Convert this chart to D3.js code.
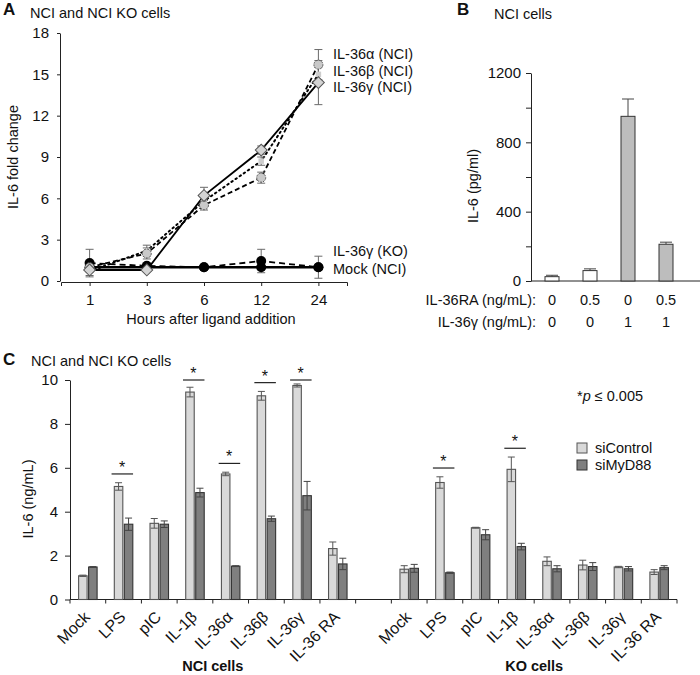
<!DOCTYPE html>
<html>
<head>
<meta charset="utf-8">
<script src="https://cdn.jsdelivr.net/npm/d3@7.9.0/dist/d3.min.js"></script>
<style>
  body { margin: 0; background: #fff; }
  svg { display: block; font-family: 'Liberation Sans', Arial, sans-serif; }
  .axis path, .axis line { stroke: #222; stroke-width: 1; }
  .axis text { font-size: 15px; fill: #111; }
</style>
</head>
<body>
<svg id="fig" width="700" height="675"></svg>
<script>
// ---- panel A: time course (fold change) ----
const hours = [1, 3, 6, 12, 24];
const alphaNCI = [1.0, 2.0, 5.5, 7.5, 15.7];
const alphaNCIErr = [0.2, 0.4, 0.35, 0.4, 1.1];
const betaNCI = [0.7, 2.2, 5.8, 8.7, 15.0];
const betaNCIErr = [0.3, 0.4, 0.3, 0.3, 0.5];
const gammaNCI = [0.8, 0.8, 6.2, 9.5, 14.4];
const gammaNCIErr = [0.15, 0.1, 0.6, 0.3, 1.6];
const gammaKO = [1.3, 1.1, 1.0, 1.45, 1.0];
const gammaKOErr = [1.0, 0.1, 0.1, 0.85, 0.8];
const mockNCI = [1.0, 1.0, 1.0, 1.0, 1.0];
const mockNCIErr = [0.05, 0.05, 0.05, 0.05, 0.05];

// ---- panel B: IL-36RA blocking ----
const raDose = ['0', '0.5', '0', '0.5'];
const gammaDose = ['0', '0', '1', '1'];
const il6pg = [25, 60, 950, 212];
const il6pgErr = [8, 10, 100, 12];

// ---- panel C: siRNA knockdown ----
const stimuli = ['Mock', 'LPS', 'pIC', 'IL-1β', 'IL-36α', 'IL-36β', 'IL-36γ', 'IL-36 RA'];
const nciControl = [1.08, 5.15, 3.47, 9.45, 5.72, 9.28, 9.75, 2.32];
const nciControlErr = [0.03, 0.17, 0.22, 0.22, 0.08, 0.2, 0.07, 0.3];
const nciMyd88 = [1.48, 3.43, 3.43, 4.87, 1.52, 3.68, 4.73, 1.62];
const nciMyd88Err = [0.02, 0.28, 0.15, 0.2, 0.02, 0.12, 0.65, 0.26];
const koControl = [1.38, 5.33, 3.27, 5.93, 1.74, 1.57, 1.48, 1.25];
const koControlErr = [0.16, 0.26, 0.02, 0.56, 0.2, 0.22, 0.03, 0.11];
const koMyd88 = [1.42, 1.22, 2.95, 2.41, 1.4, 1.5, 1.4, 1.45];
const koMyd88Err = [0.18, 0.03, 0.23, 0.15, 0.14, 0.18, 0.1, 0.09];
const nciSignificant = ['LPS', 'IL-1β', 'IL-36α', 'IL-36β', 'IL-36γ'];
const koSignificant = ['LPS', 'IL-1β'];

const svg = d3.select('#fig');

function label(x, y, txt, opts = {}) {
  const t = svg.append('text')
    .attr('x', x).attr('y', y)
    .attr('font-size', opts.size || 14.5)
    .attr('font-weight', opts.bold ? 'bold' : null)
    .attr('text-anchor', opts.anchor || 'start')
    .attr('fill', '#111')
    .text(txt);
  if (opts.rotate) t.attr('transform', `rotate(${opts.rotate},${x},${y})`);
  return t;
}

// ================= A =================
const xA = d3.scalePoint().domain(hours).range([61, 347]).padding(0.5);
const yA = d3.scaleLinear().domain([0, 18]).range([281, 33]);

svg.append('g').attr('class', 'axis')
  .attr('transform', 'translate(60,0)')
  .call(d3.axisLeft(yA).tickValues(d3.range(0, 19, 3)).tickSize(3).tickSizeOuter(0).tickPadding(8));
svg.append('g').attr('class', 'axis')
  .attr('transform', 'translate(0,282)')
  .call(d3.axisBottom(xA).tickSize(4).tickSizeOuter(4).tickPadding(8));

const seriesA = [
  { name: 'IL-36γ (KO)', values: gammaKO, err: gammaKOErr, dash: '6,4', width: 1.8, marker: 'dot' },
  { name: 'Mock (NCI)', values: mockNCI, err: mockNCIErr, dash: null, width: 2.4, marker: 'dot' },
  { name: 'IL-36β (NCI)', values: betaNCI, err: betaNCIErr, dash: '1.5,3.5', width: 2, marker: 'square' },
  { name: 'IL-36α (NCI)', values: alphaNCI, err: alphaNCIErr, dash: '5,3', width: 1.8, marker: 'circle' },
  { name: 'IL-36γ (NCI)', values: gammaNCI, err: gammaNCIErr, dash: null, width: 1.8, marker: 'diamond' }
];

const lineA = d3.line().x((d, i) => xA(hours[i])).y(d => yA(d));

seriesA.forEach(s => {
  svg.append('path')
    .attr('d', lineA(s.values))
    .attr('fill', 'none')
    .attr('stroke', '#000')
    .attr('stroke-width', s.width)
    .attr('stroke-linecap', s.marker === 'square' ? 'round' : 'butt')
    .attr('stroke-dasharray', s.dash);
});

seriesA.forEach(s => {
  const g = svg.append('g').attr('stroke', '#6a6a6a').attr('stroke-width', 1);
  s.values.forEach((v, i) => {
    if (s.err[i] < 0.1) return;
    const x = xA(hours[i]);
    g.append('line').attr('x1', x).attr('x2', x).attr('y1', yA(v - s.err[i])).attr('y2', yA(v + s.err[i]));
    [v - s.err[i], v + s.err[i]].forEach(e => {
      g.append('line').attr('x1', x - 4).attr('x2', x + 4).attr('y1', yA(e)).attr('y2', yA(e));
    });
  });
});

seriesA.forEach(s => {
  s.values.forEach((v, i) => {
    const x = xA(hours[i]), y = yA(v);
    if (s.marker === 'dot') {
      svg.append('circle').attr('cx', x).attr('cy', y).attr('r', 5).attr('fill', '#000');
    } else if (s.marker === 'circle') {
      svg.append('circle').attr('cx', x).attr('cy', y).attr('r', 4.5)
        .attr('fill', '#c9c9c9').attr('stroke', '#555').attr('stroke-width', 1).attr('stroke-dasharray', '2,1');
    } else if (s.marker === 'square') {
      svg.append('path').attr('d', d3.symbol(d3.symbolSquare, 30)())
        .attr('transform', `translate(${x},${y})`).attr('fill', '#cdcdcd');
    } else {
      svg.append('path').attr('d', d3.symbol(d3.symbolSquare, 70)())
        .attr('transform', `translate(${x},${y}) rotate(45)`)
        .attr('fill', '#d4d4d4').attr('stroke', '#555').attr('stroke-width', 1);
    }
  });
});

label(3, 15, 'A', { size: 17, bold: true });
label(30, 18, 'NCI and NCI KO cells');
label(333, 59, 'IL-36α (NCI)');
label(333, 76, 'IL-36β (NCI)');
label(333, 92, 'IL-36γ (NCI)');
label(333, 256, 'IL-36γ (KO)');
label(333, 274, 'Mock (NCI)');
label(211, 324, 'Hours after ligand addition', { anchor: 'middle' });
label(18, 157, 'IL-6 fold change', { anchor: 'middle', rotate: -90 });

// ================= B =================
const xB = d3.scalePoint().domain(d3.range(il6pg.length)).range([552, 666]);
const yB = d3.scaleLinear().domain([0, 1200]).range([281, 73]);

svg.append('g').attr('class', 'axis')
  .attr('transform', 'translate(531,0)')
  .call(d3.axisLeft(yB).tickValues(d3.range(0, 1201, 200)).tickFormat(d => d % 400 === 0 ? d : '')
    .tickSize(5).tickSizeOuter(0).tickPadding(5));
svg.append('line').attr('x1', 531).attr('x2', 700).attr('y1', 281).attr('y2', 281).attr('stroke', '#222');

il6pg.forEach((v, i) => {
  const x = xB(i);
  svg.append('line').attr('x1', x).attr('x2', x).attr('y1', yB(v)).attr('y2', yB(v + il6pgErr[i]))
    .attr('stroke', '#444');
  svg.append('line').attr('x1', x - 6).attr('x2', x + 6).attr('y1', yB(v + il6pgErr[i])).attr('y2', yB(v + il6pgErr[i]))
    .attr('stroke', '#444');
  svg.append('rect')
    .attr('x', x - 7).attr('width', 14)
    .attr('y', yB(v)).attr('height', yB(0) - yB(v))
    .attr('fill', gammaDose[i] === '0' ? '#fff' : '#bdbdbd')
    .attr('stroke', '#333').attr('stroke-width', 1);
  label(x, 305, raDose[i], { anchor: 'middle' });
  label(x, 327, gammaDose[i], { anchor: 'middle' });
});

label(536, 305, 'IL-36RA (ng/mL):', { anchor: 'end' });
label(536, 327, 'IL-36γ (ng/mL):', { anchor: 'end' });
label(457, 15, 'B', { size: 17, bold: true });
label(494, 19, 'NCI cells');
label(478, 186, 'IL-6 (pg/ml)', { anchor: 'middle', rotate: -90 });

// ================= C =================
const slots = d3.range(stimuli.length * 2 + 1);
const xC = d3.scaleBand().domain(slots).range([70, 677]);
const inner = d3.scaleBand().domain(['siControl', 'siMyD88']).range([0, xC.bandwidth()])
  .paddingInner(0.15).paddingOuter(0.86);
const yC = d3.scaleLinear().domain([0, 10]).range([599.5, 380]);

svg.append('g').attr('class', 'axis')
  .attr('transform', 'translate(70,0)')
  .call(d3.axisLeft(yC).tickValues(d3.range(0, 11, 2)).tickSize(5).tickSizeOuter(0).tickPadding(7));
const axC = svg.append('g').attr('class', 'axis').attr('transform', 'translate(0,599.5)');
axC.append('path').attr('d', `M70,4V0H677V4`).attr('fill', 'none');
slots.slice(1).forEach(s => {
  axC.append('line').attr('x1', xC(s)).attr('x2', xC(s)).attr('y1', 0).attr('y2', 4);
});

const fills = { siControl: '#d9d9d9', siMyD88: '#7f7f7f' };
const strokes = { siControl: '#555', siMyD88: '#333' };

const groupsC = [
  { offset: 0, sets: { siControl: [nciControl, nciControlErr], siMyD88: [nciMyd88, nciMyd88Err] }, sig: nciSignificant },
  { offset: stimuli.length + 1, sets: { siControl: [koControl, koControlErr], siMyD88: [koMyd88, koMyd88Err] }, sig: koSignificant }
];

groupsC.forEach(grp => {
  stimuli.forEach((stim, i) => {
    const slot = grp.offset + i;
    const x0 = xC(slot);
    let top = 0;
    ['siControl', 'siMyD88'].forEach(key => {
      const [vals, errs] = grp.sets[key];
      const v = vals[i], e = errs[i];
      top = Math.max(top, v + e);
      const bx = x0 + inner(key), bw = inner.bandwidth();
      svg.append('rect')
        .attr('x', bx).attr('width', bw)
        .attr('y', yC(v)).attr('height', yC(0) - yC(v))
        .attr('fill', fills[key]).attr('stroke', strokes[key]).attr('stroke-width', 1.1);
      const cx = bx + bw / 2;
      const eg = svg.append('g').attr('stroke', key === 'siControl' ? '#555' : '#444').attr('stroke-width', 1);
      eg.append('line').attr('x1', cx).attr('x2', cx).attr('y1', yC(v - e)).attr('y2', yC(v + e));
      [v - e, v + e].forEach(t => {
        eg.append('line').attr('x1', cx - 3.5).attr('x2', cx + 3.5).attr('y1', yC(t)).attr('y2', yC(t));
      });
    });
    // tick label
    const cxSlot = x0 + xC.bandwidth() / 2;
    label(cxSlot + 3, 618, stim, { anchor: 'end', size: 16, rotate: -45 });
    if (grp.sig.includes(stim)) {
      const ly = yC(Math.min(top + 0.4, 10));
      svg.append('line').attr('x1', cxSlot - 12).attr('x2', cxSlot + 9.5)
        .attr('y1', ly).attr('y2', ly).attr('stroke', '#222').attr('stroke-width', 1.2);
      label(cxSlot - 1.5, ly - 1, '*', { anchor: 'middle', size: 16 });
    }
  });
});

label(3, 365, 'C', { size: 17, bold: true });
label(31, 366, 'NCI and NCI KO cells');
label(33, 499, 'IL-6 (ng/mL)', { anchor: 'middle', rotate: -90 });
label(xC(3) + xC.bandwidth(), 671, 'NCI cells', { anchor: 'middle', bold: true });
label(xC(12) + xC.bandwidth(), 671, 'KO cells', { anchor: 'middle', bold: true });

const pNote = svg.append('text').attr('x', 577).attr('y', 401).attr('font-size', 14.5).attr('fill', '#111');
pNote.append('tspan').text('*');
pNote.append('tspan').attr('font-style', 'italic').text('p');
pNote.append('tspan').text(' ≤ 0.005');

['siControl', 'siMyD88'].forEach((key, i) => {
  svg.append('rect').attr('x', 577).attr('y', 443 + i * 17).attr('width', 10).attr('height', 10)
    .attr('fill', fills[key]).attr('stroke', strokes[key]);
  label(595, 453 + i * 17, key);
});
</script>
</body>
</html>
